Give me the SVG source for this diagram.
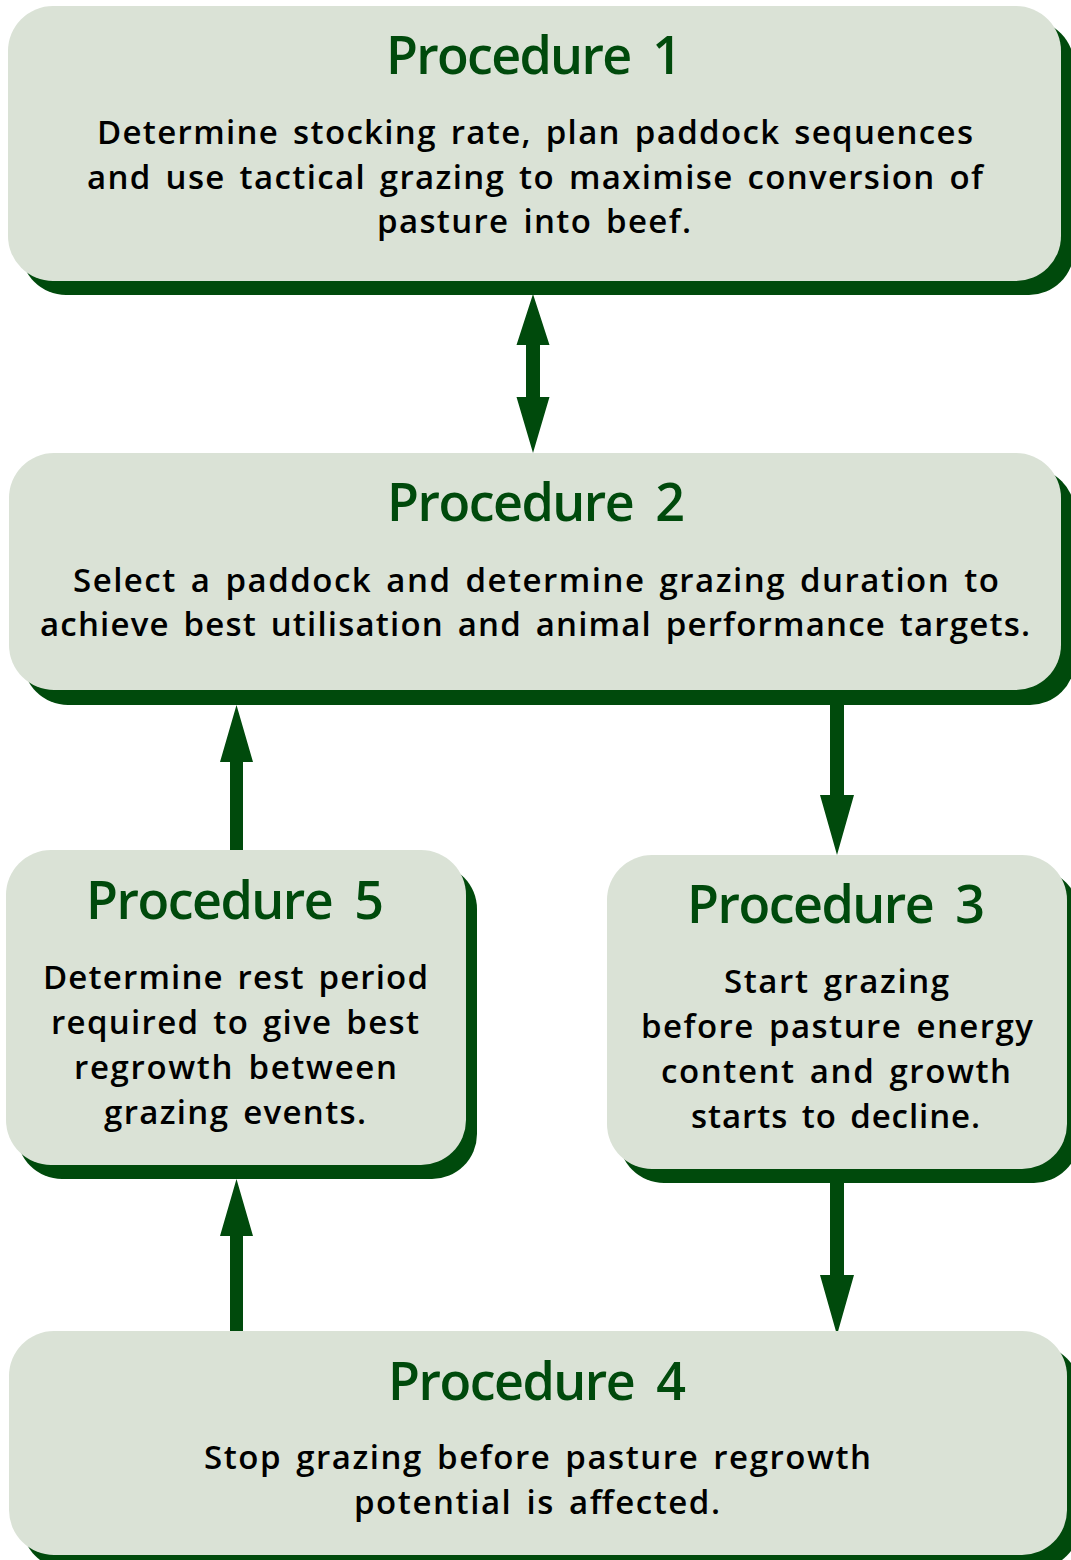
<svg xmlns="http://www.w3.org/2000/svg" width="1071" height="1560" viewBox="0 0 1071 1560">
<style>
.shadow{fill:#004a0c}
.box{fill:#dae2d6}
.title{font-family:"Open Sans","Liberation Sans",sans-serif;font-size:52px;font-weight:600;fill:#004a0c;text-anchor:middle;word-spacing:10px}
.body{font-family:"Open Sans","Liberation Sans",sans-serif;font-size:33px;font-weight:600;fill:#000;text-anchor:middle;word-spacing:4px}
.arrow{fill:#004a0c}
</style>
<rect width="1071" height="1560" fill="#fff"/>
<g id="connectors">
<path class="arrow" d="M533,294 L549.5,345 L540,345 L540,397 L549.5,397 L533,453 L516.5,397 L526,397 L526,345 L516.5,345 Z"/>
<path class="arrow" d="M236.5,705 L253,762 L243,762 L243,850 L230,850 L230,762 L220,762 Z"/>
<path class="arrow" d="M830,705 L844,705 L844,795 L854,795 L837,855 L820,795 L830,795 Z"/>
<path class="arrow" d="M830,1183 L844,1183 L844,1275 L854,1275 L837,1335 L820,1275 L830,1275 Z"/>
<path class="arrow" d="M236.5,1179 L253,1236 L243,1236 L243,1331 L230,1331 L230,1236 L220,1236 Z"/>
</g>
<g id="node1">
<rect class="shadow" x="21" y="20" width="1053" height="275" rx="45"/>
<rect class="box" x="8" y="6" width="1053" height="275" rx="45"/>
<text class="title" x="534" y="74" textLength="296" lengthAdjust="spacing">Procedure 1</text>
<text class="body" x="535" y="144" textLength="876" lengthAdjust="spacing">Determine stocking rate, plan paddock sequences</text>
<text class="body" x="535" y="189" textLength="896" lengthAdjust="spacing">and use tactical grazing to maximise conversion of</text>
<text class="body" x="534" y="233" textLength="314" lengthAdjust="spacing">pasture into beef.</text>
</g>
<g id="node2">
<rect class="shadow" x="23" y="468" width="1052" height="237" rx="45"/>
<rect class="box" x="9" y="453" width="1052" height="237" rx="45"/>
<text class="title" x="536" y="521" textLength="298" lengthAdjust="spacing">Procedure 2</text>
<text class="body" x="536" y="592" textLength="926" lengthAdjust="spacing">Select a paddock and determine grazing duration to</text>
<text class="body" x="535" y="636" textLength="990" lengthAdjust="spacing">achieve best utilisation and animal performance targets.</text>
</g>
<g id="node5">
<rect class="shadow" x="17" y="864" width="460" height="315" rx="45"/>
<rect class="box" x="6" y="850" width="460" height="315" rx="45"/>
<text class="title" x="235" y="919" textLength="298" lengthAdjust="spacing">Procedure 5</text>
<text class="body" x="235.5" y="989" textLength="385" lengthAdjust="spacing">Determine rest period</text>
<text class="body" x="235" y="1034" textLength="368" lengthAdjust="spacing">required to give best</text>
<text class="body" x="235.5" y="1079" textLength="323" lengthAdjust="spacing">regrowth between</text>
<text class="body" x="235" y="1124" textLength="262" lengthAdjust="spacing">grazing events.</text>
</g>
<g id="node3">
<rect class="shadow" x="619" y="869" width="460" height="314" rx="45"/>
<rect class="box" x="607" y="855" width="460" height="314" rx="45"/>
<text class="title" x="836" y="923" textLength="298" lengthAdjust="spacing">Procedure 3</text>
<text class="body" x="836.5" y="993" textLength="225" lengthAdjust="spacing">Start grazing</text>
<text class="body" x="837" y="1038" textLength="392" lengthAdjust="spacing">before pasture energy</text>
<text class="body" x="836" y="1083" textLength="350" lengthAdjust="spacing">content and growth</text>
<text class="body" x="835.5" y="1128" textLength="289" lengthAdjust="spacing">starts to decline.</text>
</g>
<g id="node4">
<rect class="shadow" x="22" y="1345" width="1058" height="224" rx="45"/>
<rect class="box" x="9" y="1331" width="1058" height="224" rx="45"/>
<text class="title" x="537" y="1400" textLength="298" lengthAdjust="spacing">Procedure 4</text>
<text class="body" x="537.5" y="1469" textLength="667" lengthAdjust="spacing">Stop grazing before pasture regrowth</text>
<text class="body" x="537" y="1514" textLength="366" lengthAdjust="spacing">potential is affected.</text>
</g>
</svg>
